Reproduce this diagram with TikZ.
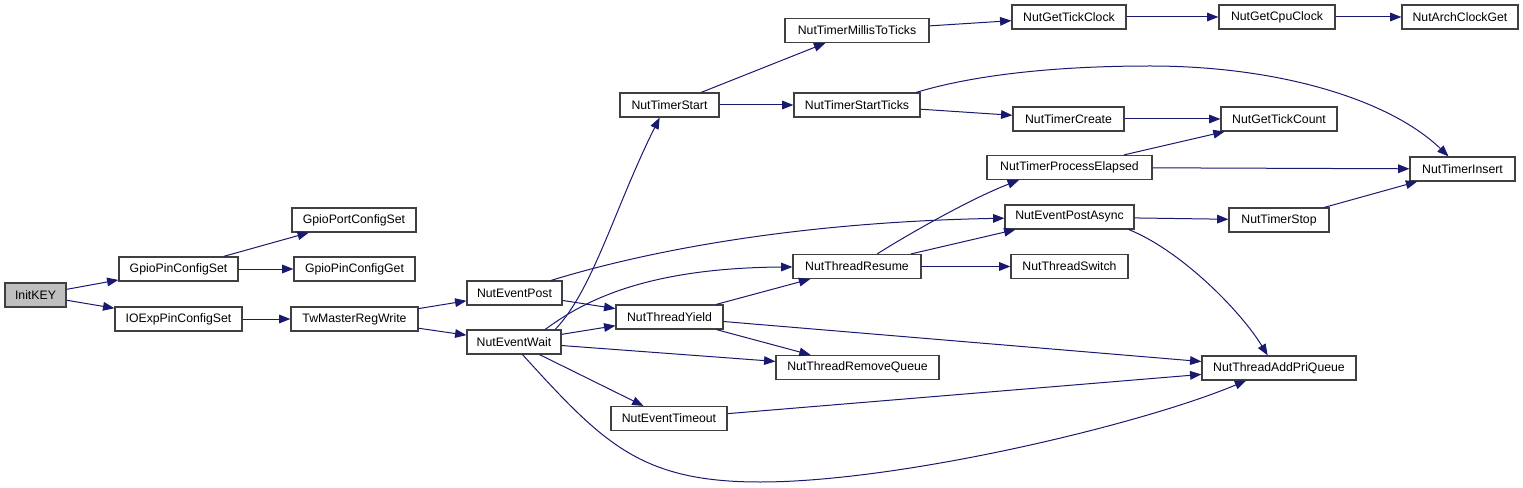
\documentclass[tikz,border=0pt]{standalone}
\usepackage{fontspec}
\setmainfont{Liberation Sans}
\usepackage{xcolor}
\usepackage{tikz}
\usetikzlibrary{arrows.meta}
\definecolor{edgecol}{RGB}{25,25,112}
\definecolor{boxcol}{RGB}{64,64,64}
\definecolor{rootcol}{RGB}{191,191,191}
\tikzset{
  fn/.style  ={rectangle,draw=boxcol,line width=0.9pt,fill=white,minimum height=18pt,inner sep=0pt,font=\fontsize{9.2}{11}\selectfont},
  root/.style={fill=rootcol},
  bw/.style  ={minimum width=#1*0.75pt},
  call/.style={edgecol,line width=0.75pt,-{Triangle[length=8.5pt,width=6.5pt]}},
}

\begin{document}
\begin{tikzpicture}[x=0.75pt,y=-0.75pt]
  \useasboundingbox (0,0) rectangle (1523,488);
  % left part: key init, gpio, expander
  \node[fn,root,bw=61] (ik)    at (35.5,295){InitKEY};
  \node[fn,bw=119] (gpset)     at (178.5,269){GpioPinConfigSet};
  \node[fn,bw=127] (ioset)     at (178.5,319){IOExpPinConfigSet};
  \node[fn,bw=124] (portset)   at (354,220){GpioPortConfigSet};
  \node[fn,bw=121] (gpget)     at (354.5,269){GpioPinConfigGet};
  \node[fn,bw=127] (twwr)      at (354.5,319){TwMasterRegWrite};
  \node[fn,bw=95]  (evpost)    at (514.5,293){NutEventPost};
  \node[fn,bw=94]  (evwait)    at (514,342){NutEventWait};
  % middle: threads and timers
  \node[fn,bw=99]  (tstart)    at (669.5,105){NutTimerStart};
  \node[fn,bw=107] (tyield)    at (669.5,317){NutThreadYield};
  \node[fn,bw=116] (evtout)    at (669,418.5){NutEventTimeout};
  \node[fn,bw=144] (tmillis)   at (857,30.5){NutTimerMillisToTicks};
  \node[fn,bw=126] (tsticks)   at (857,105){NutTimerStartTicks};
  \node[fn,bw=128] (tresume)   at (857,266.5){NutThreadResume};
  \node[fn,bw=163] (tremove)   at (857.5,367.5){NutThreadRemoveQueue};
  \node[fn,bw=114] (tickclk)   at (1069,17){NutGetTickClock};
  \node[fn,bw=111] (tcreate)   at (1068.5,119){NutTimerCreate};
  \node[fn,bw=165] (tproc)     at (1069.5,167.5){NutTimerProcessElapsed};
  \node[fn,bw=129] (evasync)   at (1069.5,217){NutEventPostAsync};
  \node[fn,bw=117] (tswitch)   at (1069.5,266.5){NutThreadSwitch};
  % right part
  \node[fn,bw=116] (cpuclk)    at (1277,17){NutGetCpuClock};
  \node[fn,bw=116] (tickcnt)   at (1279,119){NutGetTickCount};
  \node[fn,bw=100] (tstop)     at (1279,220){NutTimerStop};
  \node[fn,bw=154] (addpri)    at (1279,368){NutThreadAddPriQueue};
  \node[fn,bw=116] (archclk)   at (1460,17){NutArchClockGet};
  \node[fn,bw=105] (tinsert)   at (1462.5,169){NutTimerInsert};
  % straight calls
  \draw[call] (ik)--(gpset); \draw[call] (ik)--(ioset);
  \draw[call] (gpset)--(portset); \draw[call] (gpset)--(gpget);
  \draw[call] (ioset)--(twwr);
  \draw[call] (twwr)--(evpost); \draw[call] (twwr)--(evwait);
  \draw[call] (evpost)--(tyield);
  \draw[call] (evwait)--(tyield); \draw[call] (evwait)--(tremove); \draw[call] (evwait)--(evtout);
  \draw[call] (tstart)--(tmillis); \draw[call] (tstart)--(tsticks);
  \draw[call] (tmillis)--(tickclk); \draw[call] (tickclk)--(cpuclk); \draw[call] (cpuclk)--(archclk);
  \draw[call] (tsticks)--(tcreate); \draw[call] (tcreate)--(tickcnt);
  \draw[call] (tproc)--(tickcnt); \draw[call] (tproc)--(tinsert);
  \draw[call] (tyield)--(tresume); \draw[call] (tyield)--(tremove); \draw[call] (tyield)--(addpri);
  \draw[call] (tresume)--(evasync); \draw[call] (tresume)--(tswitch);
  \draw[call] (evasync)--(tstop); \draw[call] (tstop)--(tinsert);
  \draw[call] (evtout)--(addpri);
  % curved calls
  \draw[call] (evpost.19) .. controls (650,250) and (800,222) .. (evasync);
  \draw[call] (evwait.17) .. controls (593,290) and (615,207) .. (tstart.232);
  \draw[call] (evwait.22) .. controls (580,304) and (640,268) .. (tresume);
  \draw[call] (evwait.-56) .. controls (603,443) and (640,482) .. (760,482)
                           .. controls (900,482) and (1140,425) .. (addpri.201);
  \draw[call] (tsticks.12) .. controls (970,76) and (1050,66) .. (1150,66)
                           .. controls (1280,66) and (1390,100) .. (tinsert.138);
  \draw[call] (tresume.32) .. controls (907,235) and (970,199) .. (tproc.194);
  \draw[call] (evasync.-12) .. controls (1180,250) and (1240,310) .. (addpri.132);
\end{tikzpicture}
\end{document}
